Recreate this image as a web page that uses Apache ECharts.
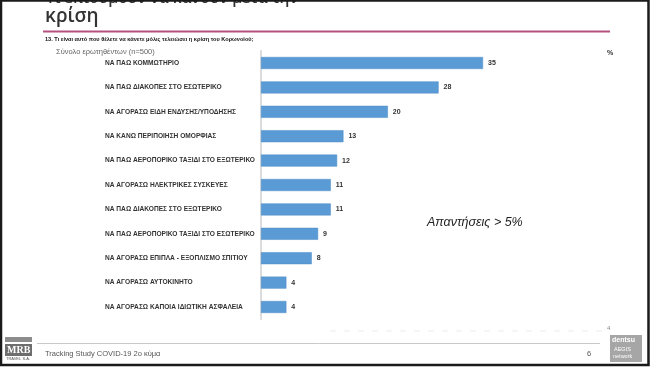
<!DOCTYPE html>
<html><head><meta charset="utf-8">
<script src="https://cdn.jsdelivr.net/npm/echarts@6/dist/echarts.min.js"></script>
<style>html,body{margin:0;padding:0;background:#fff}#c{width:650px;height:367px}</style>
</head><body><div id="c"></div>
<script>
const categories = [
  'ΝΑ ΠΑΩ ΚΟΜΜΩΤΗΡΙΟ',
  'ΝΑ ΠΑΩ ΔΙΑΚΟΠΕΣ ΣΤΟ ΕΣΩΤΕΡΙΚΟ',
  'ΝΑ ΑΓΟΡΑΣΩ ΕΙΔΗ ΕΝΔΥΣΗΣ/ΥΠΟΔΗΣΗΣ',
  'ΝΑ ΚΑΝΩ ΠΕΡΙΠΟΙΗΣΗ ΟΜΟΡΦΙΑΣ',
  'ΝΑ ΠΑΩ ΑΕΡΟΠΟΡΙΚΟ ΤΑΞΙΔΙ ΣΤΟ ΕΞΩΤΕΡΙΚΟ',
  'ΝΑ ΑΓΟΡΑΣΩ ΗΛΕΚΤΡΙΚΕΣ ΣΥΣΚΕΥΕΣ',
  'ΝΑ ΠΑΩ ΔΙΑΚΟΠΕΣ ΣΤΟ ΕΞΩΤΕΡΙΚΟ',
  'ΝΑ ΠΑΩ ΑΕΡΟΠΟΡΙΚΟ ΤΑΞΙΔΙ ΣΤΟ ΕΣΩΤΕΡΙΚΟ',
  'ΝΑ ΑΓΟΡΑΣΩ ΕΠΙΠΛΑ - ΕΞΟΠΛΙΣΜΟ ΣΠΙΤΙΟΥ',
  'ΝΑ ΑΓΟΡΑΣΩ ΑΥΤΟΚΙΝΗΤΟ',
  'ΝΑ ΑΓΟΡΑΣΩ ΚΑΠΟΙΑ ΙΔΙΩΤΙΚΗ ΑΣΦΑΛΕΙΑ'
];
const values = [35, 28, 20, 13, 12, 11, 11, 9, 8, 4, 4];
const titleLine1 = 'Τι επιθυμούν να κάνουν μετά την';
const titleLine2 = 'κρίση';
const questionText = '13. Τι είναι αυτό που θέλετε να κάνετε μόλις τελειώσει η κρίση του Κορωνοϊού;';
const baseText = 'Σύνολο ερωτηθέντων (n=500)';
const noteText = 'Απαντήσεις > 5%';
const footerText = 'Tracking Study COVID-19 2ο κύμα';
const pageNumber = '6';

const chart = echarts.init(document.getElementById('c'), null, {renderer: 'canvas'});
const F = 'Liberation Sans, Arial, sans-serif';
chart.setOption({
  animation: false,
  backgroundColor: '#fff',
  grid: {left: 261, right: 135.3, top: 50.8, bottom: 47.8, containLabel: false},
  xAxis: {type: 'value', min: 0, max: 40, show: false},
  yAxis: {
    type: 'category', data: categories, inverse: true,
    axisLine: {show: true, lineStyle: {color: '#d0d0d0', width: 1.5}},
    axisTick: {show: false},
    axisLabel: {align: 'left', margin: 156, fontFamily: F, fontWeight: 'bold', fontSize: 6.6, color: '#333'}
  },
  series: [{
    type: 'bar', data: values, barWidth: 12,
    itemStyle: {color: '#5b9bd5', borderColor: '#4a8ac6', borderWidth: 0.5},
    label: {show: true, position: 'right', distance: 5, fontFamily: F, fontWeight: 'bold', fontSize: 7, color: '#333'}
  }],
  graphic: [
    {type: 'text', left: 46, top: -9, style: {text: titleLine1, font: '600 15.5px "Open Sans"', fill: '#333'}},
    {type: 'text', left: 45, top: 7, style: {text: titleLine2, font: '600 19px "Open Sans"', fill: '#333'}},
    {type: 'rect', shape: {x: 43, y: 30.5, width: 567, height: 2}, style: {fill: '#b5517e'}},
    {type: 'text', left: 45, top: 36, style: {text: questionText, font: 'bold 5.6px ' + F, fill: '#111'}},
    {type: 'text', left: 56, top: 48, style: {text: baseText, font: '7.5px ' + F, fill: '#666'}},
    {type: 'text', left: 607, top: 50, style: {text: '%', font: 'bold 7px ' + F, fill: '#333'}},
    {type: 'text', left: 427, top: 216, style: {text: noteText, font: 'italic 12.5px ' + F, fill: '#222'}},
    {type: 'line', shape: {x1: 330, y1: 331, x2: 606, y2: 331}, style: {stroke: '#ececec', lineWidth: 1, lineDash: [6, 8]}},
    {type: 'text', left: 607, top: 325, style: {text: '4', font: '6px ' + F, fill: '#888'}},
    {type: 'line', shape: {x1: 37, y1: 343.5, x2: 600, y2: 343.5}, style: {stroke: '#c8c8c8', lineWidth: 1}},
    {type: 'text', left: 45, top: 350, style: {text: footerText, font: '7.5px ' + F, fill: '#555'}},
    {type: 'text', left: 587, top: 350, style: {text: pageNumber, font: '7.5px ' + F, fill: '#555'}},
    {type: 'rect', shape: {x: 5, y: 337, width: 27, height: 5}, style: {fill: '#8c8c8c'}},
    {type: 'rect', shape: {x: 5, y: 344, width: 27, height: 12}, style: {fill: '#6e6e6e'}},
    {type: 'text', left: 7, top: 345, style: {text: 'MRB', font: 'bold 10px "Liberation Serif"', fill: '#fff'}},
    {type: 'text', left: 6, top: 357, style: {text: 'TRAVEL S.A.', font: '4px ' + F, fill: '#555'}},
    {type: 'rect', shape: {x: 610, y: 335, width: 32, height: 27}, style: {fill: '#a6a6a6'}},
    {type: 'text', left: 612, top: 337, style: {text: 'dentsu', font: 'bold 7px ' + F, fill: '#fff'}},
    {type: 'text', left: 614, top: 346, style: {text: 'AEGIS', font: '5.5px ' + F, fill: '#fff'}},
    {type: 'text', left: 613, top: 353, style: {text: 'network', font: '5.5px ' + F, fill: '#fff'}},
    {type: 'rect', shape: {x: 1, y: 0.5, width: 647.5, height: 364.5}, style: {fill: 'none', stroke: '#1a1a1a', lineWidth: 2.5}}
  ]
});
</script></body></html>
